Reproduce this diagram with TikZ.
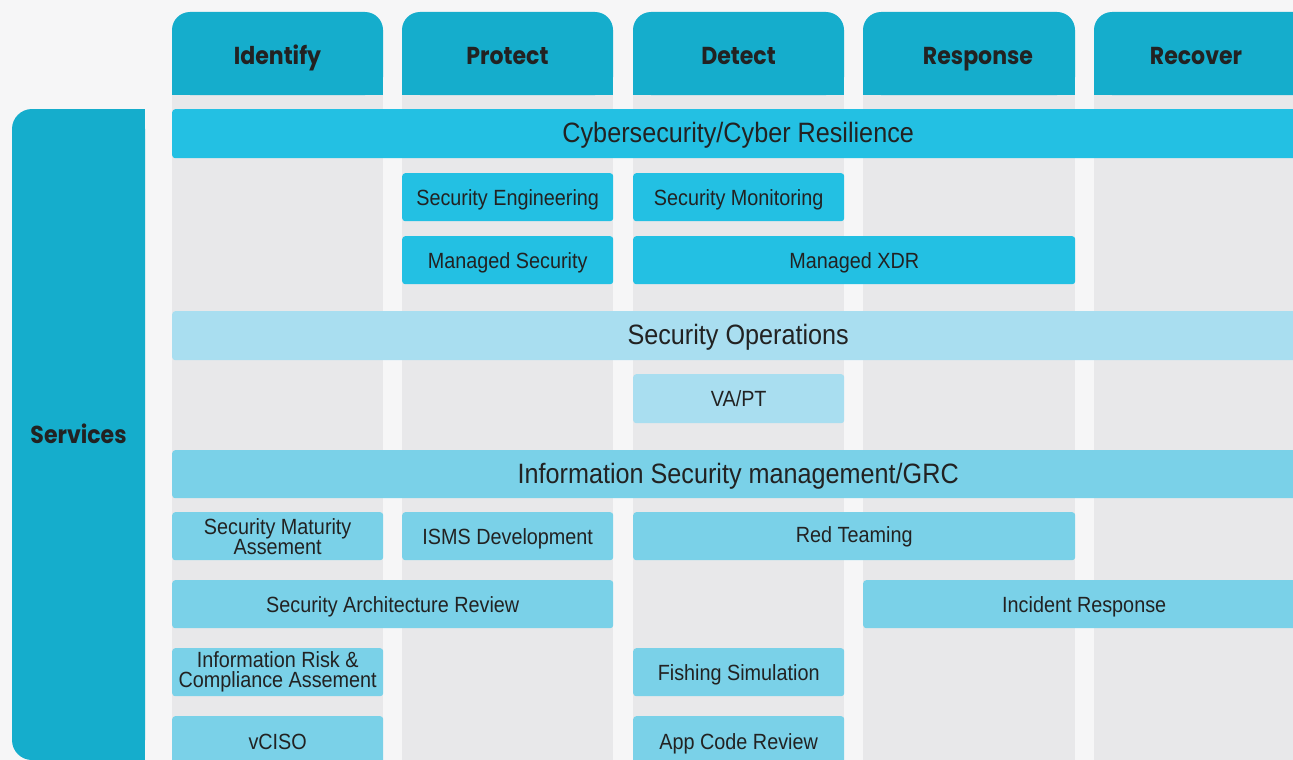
\documentclass[tikz,border=0pt]{standalone}
\usepackage{fontspec}
\newfontfamily\headfont[FakeStretch=0.9]{Poppins}
\newfontfamily\boxfont[FakeStretch=0.9]{Liberation Sans}
\definecolor{pagebg}{HTML}{F6F6F7}
\definecolor{colbg}{HTML}{E8E8EA}
\definecolor{headc}{HTML}{15ADCC}
\definecolor{dk}{HTML}{23C0E3}
\definecolor{lt}{HTML}{A9DEF0}
\definecolor{md}{HTML}{7AD1E8}
\definecolor{txt}{HTML}{222222}
\tikzset{
  headtext/.style={anchor=base, text=txt, font=\headfont\bfseries\fontsize{24.5}{28}\selectfont, inner sep=0pt},
  bar/.style={anchor=north west, inner sep=0pt, rounded corners=3pt, text=txt, align=center,
    font=\boxfont\fontsize{22}{20}\selectfont},
  one/.style={bar, text height=15.8pt, text depth=0pt},
  wide/.style={bar, font=\boxfont\fontsize{28}{30}\selectfont, text height=20pt, text depth=2pt},
}
\begin{document}
\begin{tikzpicture}[x=1pt,y=-1pt]
\useasboundingbox (0,0) rectangle (1293,760);
\clip (0,0) rectangle (1293,760);
\fill[pagebg] (0,0) rectangle (1293,760);
% columns
\foreach \a/\b in {172/383,402/613,633/844,863/1075,1094/1320}{
  \fill[colbg] (\a,60) rectangle (\b,780);
  \fill[headc, rounded corners=18pt] (\a,12) rectangle (\b,95);
  \fill[headc] (\a,60) rectangle (\b,95);
}
\node[headtext] (hid) at (277.5,64.5) {Identify};
\node[headtext] (hpr) at (507.5,64.5) {Protect};
\node[headtext] (hde) at (738.5,64.5) {Detect};
\node[headtext] (hre) at (978,64.5) {Response};
\node[headtext] (hrc) at (1196,64.5) {Recover};
% services
\fill[headc, rounded corners=20pt] (12,109) rectangle (145,760);
\fill[headc] (80,109) rectangle (145,760);
\node[headtext] (serv) at (78.5,443.5) {Services};
% bars
\node[wide, fill=dk, minimum width=1132pt, minimum height=49pt] (cyber) at (172,109) {Cybersecurity/Cyber Resilience};
\node[one, fill=dk, minimum width=211pt, minimum height=48pt] (seceng) at (402,173) {Security Engineering};
\node[one, fill=dk, minimum width=211pt, minimum height=48pt] (secmon) at (633,173) {Security Monitoring};
\node[one, fill=dk, minimum width=211pt, minimum height=48pt] (mansec) at (402,236) {Managed Security};
\node[one, fill=dk, minimum width=442pt, minimum height=48pt] (xdr) at (633,236) {Managed XDR};
\node[wide, fill=lt, minimum width=1132pt, minimum height=49pt] (secops) at (172,311) {Security Operations};
\node[one, fill=lt, minimum width=211pt, minimum height=49pt] (vapt) at (633,374) {VA/PT};
\node[wide, fill=md, minimum width=1132pt, minimum height=48pt] (grc) at (172,450) {Information Security management/GRC};
\node[bar, fill=md, minimum width=211pt, minimum height=48pt] (smat) at (172,512) {Security Maturity\\Assement};
\node[one, fill=md, minimum width=211pt, minimum height=48pt] (isms) at (402,512) {ISMS Development};
\node[one, fill=md, minimum width=442pt, minimum height=48pt, text depth=4pt] (red) at (633,512) {Red Teaming};
\node[one, fill=md, minimum width=441pt, minimum height=48pt] (arch) at (172,580) {Security Architecture Review};
\node[one, fill=md, minimum width=442pt, minimum height=48pt] (inc) at (863,580) {Incident Response};
\node[bar, fill=md, minimum width=211pt, minimum height=48pt] (irisk) at (172,648) {Information Risk \&\\Compliance Assement};
\node[one, fill=md, minimum width=211pt, minimum height=48pt] (fish) at (633,648) {Fishing Simulation};
\node[one, fill=md, minimum width=211pt, minimum height=50pt] (vciso) at (172,716) {vCISO};
\node[one, fill=md, minimum width=211pt, minimum height=50pt] (acr) at (633,716) {App Code Review};
\end{tikzpicture}
\end{document}
